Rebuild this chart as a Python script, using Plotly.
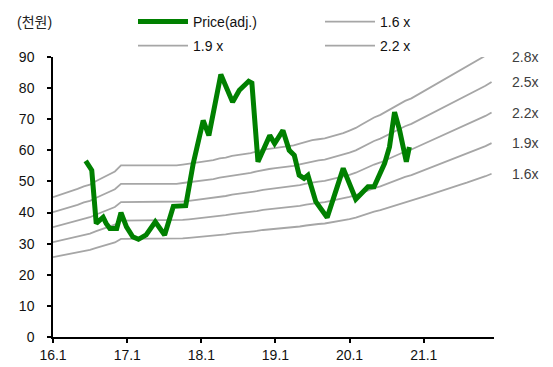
import plotly.graph_objects as go
import pandas as pd

# Monthly BPS (천원) used for the PBR band lines, 2016.1 - 2021.12
bps_dates = pd.date_range("2016-01-01", "2021-12-01", freq="MS")
bps = [16.05, 16.3, 16.5, 16.7, 17.0, 17.3, 17.5, 17.9, 18.3, 18.6, 19.0, 19.7,
       19.7, 19.7, 19.7, 19.7, 19.7, 19.7, 19.7, 19.7, 19.7, 19.8, 19.9, 20.0,
       20.1, 20.2, 20.3, 20.5, 20.6, 20.8, 20.9, 21.0, 21.1, 21.3, 21.5, 21.6,
       21.7, 21.8, 21.9, 22.0, 22.2, 22.4, 22.6, 22.7, 22.8, 23.0, 23.2, 23.4,
       23.7, 24.0, 24.4, 24.8, 25.2, 25.5, 25.9, 26.3, 26.7, 27.1, 27.4, 27.8,
       28.2, 28.6, 29.0, 29.4, 29.8, 30.2, 30.6, 31.0, 31.4, 31.8, 32.3, 32.8]

multiples = [1.6, 1.9, 2.2, 2.5, 2.8]
legend_names = ["1.6 x", "1.9 x", "2.2 x", "2.5 x", "2.8 x"]
end_labels = ["1.6x", "1.9x", "2.2x", "2.5x", "2.8x"]

# Adjusted share price (천원)
price_dates = ["2016-06-10", "2016-07-10", "2016-08-01", "2016-09-04", "2016-09-19",
               "2016-10-07", "2016-11-10", "2016-12-01", "2016-12-28", "2017-01-28",
               "2017-02-25", "2017-04-04", "2017-05-19", "2017-07-04", "2017-08-16",
               "2017-10-16", "2017-11-22", "2018-01-10", "2018-02-07", "2018-04-07",
               "2018-06-04", "2018-07-07", "2018-08-22", "2018-09-07", "2018-10-07",
               "2018-12-04", "2018-12-28", "2019-02-07", "2019-03-10", "2019-04-04",
               "2019-04-28", "2019-05-22", "2019-06-10", "2019-07-19", "2019-09-13",
               "2019-12-01", "2020-02-01", "2020-04-01", "2020-05-01", "2020-06-22",
               "2020-07-16", "2020-08-10", "2020-09-04", "2020-10-07", "2020-10-22"]
price = [56.6, 53.6, 36.5, 38.5, 36.5,
         34.9, 34.9, 40.0, 35.4, 32.2,
         31.4, 32.8, 37.0, 32.8, 42.0,
         42.2, 55.8, 69.6, 64.8, 84.4,
         75.5, 79.3, 82.2, 81.6, 56.3,
         64.8, 62.2, 66.4, 60.0, 58.4,
         52.0, 51.0, 52.0, 43.5, 38.4,
         54.2, 44.3, 48.3, 48.3, 55.8,
         61.1, 72.3, 66.4, 56.3, 61.1]

x_tickvals = ["2016-01-01", "2017-01-01", "2018-01-01", "2019-01-01", "2020-01-01", "2021-01-01"]
x_ticktext = ["16.1", "17.1", "18.1", "19.1", "20.1", "21.1"]

FONT = "Arial, Liberation Sans, Noto Sans CJK KR, sans-serif"
GRAY = "#a6a6a6"
W, H = 553, 367

fig = go.Figure()

legend_of = {"1.6 x": "legend", "1.9 x": "legend2", "2.2 x": "legend2"}
rank_of = {"1.6 x": 2, "1.9 x": 1, "2.2 x": 2}
for m, name in zip(multiples, legend_names):
    fig.add_trace(go.Scatter(
        x=bps_dates, y=[b * m for b in bps], mode="lines", name=name,
        line=dict(color=GRAY, width=1.8),
        showlegend=name in legend_of,
        legend=legend_of.get(name, "legend"),
        legendrank=rank_of.get(name, 10),
        hoverinfo="skip"))

fig.add_trace(go.Scatter(
    x=price_dates, y=price, mode="lines", name="Price(adj.)",
    line=dict(color="#008000", width=5),
    legend="legend", legendrank=1))

for m, lab in zip(multiples, end_labels):
    fig.add_annotation(x=bps_dates[-1], y=min(bps[-1] * m, 90), text=lab,
                       xref="x", yref="y", xanchor="left", yanchor="middle",
                       xshift=18, showarrow=False,
                       font=dict(family=FONT, size=14, color="#404040"))

fig.add_annotation(x=15 / W, y=1 - 22 / H, xref="paper", yref="paper", text="(천원)",
                   xanchor="left", yanchor="middle", showarrow=False,
                   font=dict(family=FONT, size=14, color="#222"))
fig.layout.annotations[-1].update(xref="paper", yref="paper")

leg_common = dict(orientation="h", xanchor="left", yanchor="middle",
                  xref="container", yref="container",
                  font=dict(family=FONT, size=14, color="#111"),
                  bgcolor="rgba(0,0,0,0)", itemwidth=50,
                  entrywidth=122, entrywidthmode="pixels", traceorder="normal")

fig.update_layout(
    width=W, height=H,
    margin=dict(l=53, r=59, t=57, b=30, autoexpand=False),
    paper_bgcolor="white", plot_bgcolor="white",
    font=dict(family=FONT, size=14, color="#111"),
    showlegend=True,
    legend=dict(x=133 / W, y=1 - 22 / H, **leg_common),
    legend2=dict(x=133 / W, y=1 - 46 / H, **leg_common),
    xaxis=dict(type="date", range=["2016-01-01", "2021-12-13"],
               tickvals=x_tickvals, ticktext=x_ticktext, automargin=False,
               showline=True, linecolor="#000", linewidth=1.5,
               ticks="outside", ticklen=4, tickcolor="#000", tickwidth=1.5,
               showgrid=False, zeroline=False,
               tickfont=dict(family=FONT, size=14, color="#111")),
    yaxis=dict(range=[0, 90], tickvals=list(range(0, 91, 10)), automargin=False,
               showline=True, linecolor="#000", linewidth=1.5,
               ticks="outside", ticklen=4, tickcolor="#000", tickwidth=1.5,
               ticklabelstandoff=10,
               showgrid=False, zeroline=False,
               tickfont=dict(family=FONT, size=14, color="#111")),
)

# (천원) unit label: position relative to the plot area in paper coords
fig.layout.annotations[-1].update(x=(15 - 53) / 441, y=(337.3 - 22) / 280.3)

fig.write_html("out.html")
